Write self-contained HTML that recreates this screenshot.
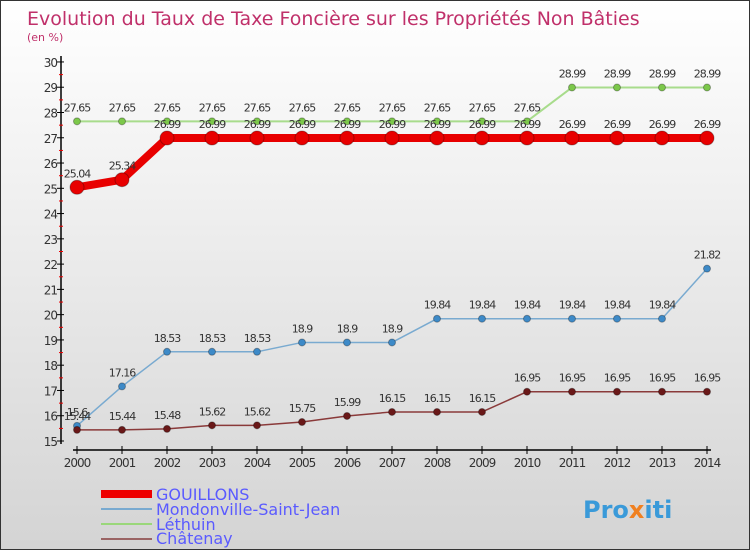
<!DOCTYPE html>
<html><head><meta charset="utf-8"><style>
body{margin:0}
#c{width:750px;height:550px;position:relative;background:linear-gradient(#ffffff,#d4d4d4);box-sizing:border-box;border:1px solid #333;font-family:"DejaVu Sans","Liberation Sans",sans-serif;overflow:hidden}
svg text{font-family:"DejaVu Sans","Liberation Sans",sans-serif}
</style></head><body>
<div id="c">
<svg id="s" width="750" height="550">
<text x="26" y="24" font-size="19" fill="#c0306a">Evolution du Taux de Taxe Foncière sur les Propriétés Non Bâties</text>
<text x="26" y="40" font-size="11" fill="#c0306a">(en %)</text>
<g id="g"></g>
<g>
<rect x="100" y="489" width="51" height="8" fill="#e00"/>
<text x="155" y="499" font-size="16" fill="#5a5aff">GOUILLONS</text>
<line x1="100" y1="508" x2="151" y2="508" stroke="#79aad0" stroke-width="2"/>
<text x="155" y="514" font-size="16" fill="#5a5aff">Mondonville-Saint-Jean</text>
<line x1="100" y1="523" x2="151" y2="523" stroke="#9ad77a" stroke-width="2"/>
<text x="155" y="529" font-size="16" fill="#5a5aff">Léthuin</text>
<line x1="100" y1="538" x2="151" y2="538" stroke="#9a6464" stroke-width="2"/>
<text x="155" y="543" font-size="16" fill="#5a5aff">Châtenay</text>
</g>
<text x="582" y="517" font-size="24" font-weight="bold" fill="#3a9ad9">Pro<tspan fill="#f08020">x</tspan>iti</text>
</svg>
</div>
<script>
const years=[2000,2001,2002,2003,2004,2005,2006,2007,2008,2009,2010,2011,2012,2013,2014];
const yTicks=[15,16,17,18,19,20,21,22,23,24,25,26,27,28,29,30];
const gouillons=[25.04,25.34,26.99,26.99,26.99,26.99,26.99,26.99,26.99,26.99,26.99,26.99,26.99,26.99,26.99];
const mondonville=[15.6,17.16,18.53,18.53,18.53,18.9,18.9,18.9,19.84,19.84,19.84,19.84,19.84,19.84,21.82];
const lethuin=[27.65,27.65,27.65,27.65,27.65,27.65,27.65,27.65,27.65,27.65,27.65,28.99,28.99,28.99,28.99];
const chatenay=[15.44,15.44,15.48,15.62,15.62,15.75,15.99,16.15,16.15,16.15,16.95,16.95,16.95,16.95,16.95];
const NS="http://www.w3.org/2000/svg";
const g=document.getElementById('g');
function X(i){return 76+i*45;}
function Y(v){return 440-(v-15)*25.27;}
function mk(t,a){const e=document.createElementNS(NS,t);for(const k in a)e.setAttribute(k,a[k]);g.appendChild(e);return e;}
let e=mk('line',{x1:60,y1:55,x2:60,y2:443,stroke:'#000','stroke-width':1.5});


e=mk('line',{x1:72,y1:449,x2:710,y2:449,stroke:'#000','stroke-width':1.5});


yTicks.forEach(v=>{
 const y=Y(v);
 let t=mk('line',{x1:56,y1:y,x2:63,y2:y,stroke:'#000'});
 
 
 if(v<30){let m=mk('line',{x1:58,y1:y-12.6,x2:62,y2:y-12.6,stroke:'#e00'});
 
 }
 t=mk('text',{x:56,y:y+5,'font-size':12,fill:'#333','text-anchor':'end','letter-spacing':'-1'});
 t.textContent=v;
 
 
});
years.forEach((yr,i)=>{
 let t=mk('line',{x1:X(i),y1:445,x2:X(i),y2:453,stroke:'#000'});
 
 
 t=mk('text',{x:X(i),y:466,'font-size':12,fill:'#333','text-anchor':'middle','letter-spacing':'-1'});
 t.textContent=yr;
 
 
});
function series(d,name,col,dot,w,r){
 const pts=d.map((v,i)=>X(i)+','+Y(v)).join(' ');
 let p=mk('polyline',{points:pts,fill:'none',stroke:col,'stroke-width':w,'stroke-linejoin':'round'});
 
 
 d.forEach((v,i)=>{
  let c=mk('circle',{cx:X(i),cy:Y(v),r:r,fill:dot,stroke:'rgba(0,0,0,0.3)'});
  
  
  let t=mk('text',{x:X(i),y:Y(v)-10,'font-size':11,fill:'#333','text-anchor':'middle','letter-spacing':'-1'});
  t.textContent=v;
  
  
 });
}
series(lethuin,'lethuin','#a8dc8c','#7cc84a',2,3.5);
series(mondonville,'mondonville','#79aad0','#3d8ac8',1.5,3.5);
series(chatenay,'chatenay','#8a3a3a','#6a1818',1.5,3.5);
series(gouillons,'gouillons','#e80000','#e80000',8,7);
</script>
</body></html>
